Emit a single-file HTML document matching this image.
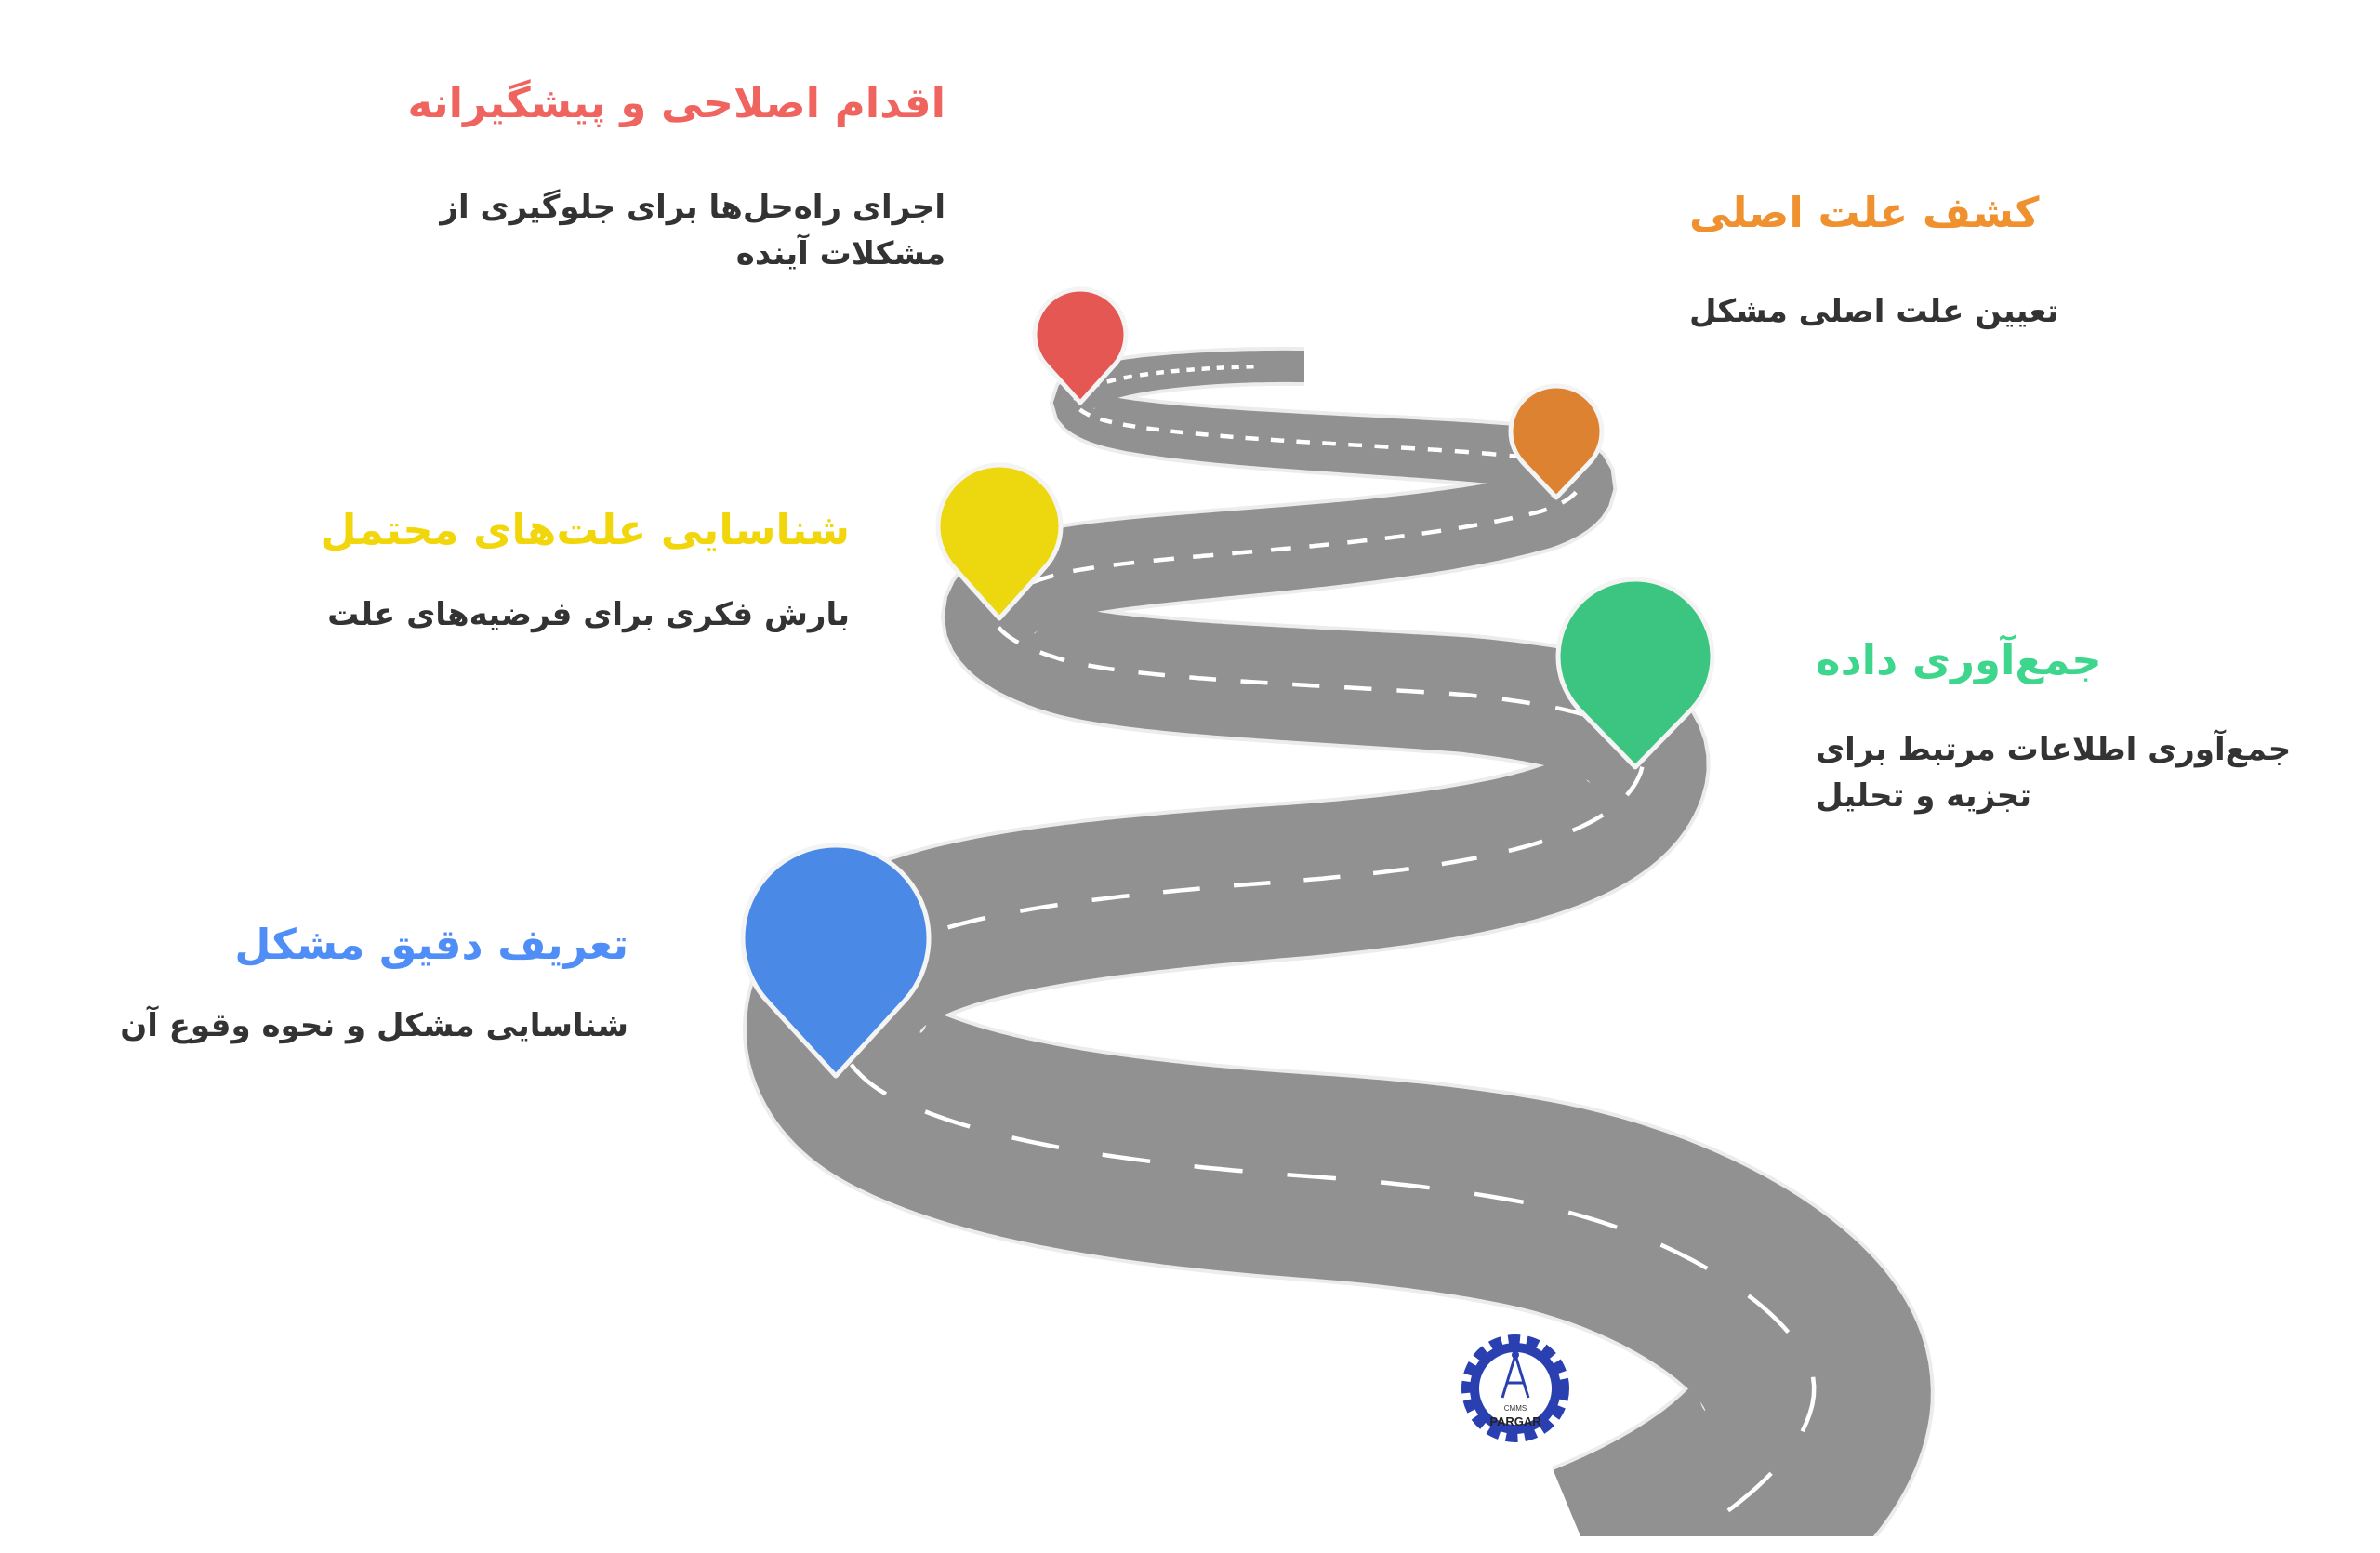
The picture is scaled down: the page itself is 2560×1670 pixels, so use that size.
<!DOCTYPE html>
<html><head><meta charset="utf-8"><style>
html,body{margin:0;padding:0;background:#fff;}
body{width:2560px;height:1670px;position:relative;overflow:hidden;font-family:"DejaVu Sans","Noto Sans CJK SC",sans-serif;}
.t{position:absolute;direction:rtl;font-weight:bold;white-space:nowrap;line-height:1;}
.h{font-size:45px;}
.d{font-size:34px;color:#333;line-height:50px;}
svg{position:absolute;left:0;top:0;overflow:hidden;}
</style></head><body>
<svg id="sv" width="2560" height="1670" viewBox="0 0 2560 1670">
<defs><clipPath id="cp"><rect x="0" y="0" width="2560" height="1652"/></clipPath></defs>
<path id="cl" fill="none" stroke="none" d="M1720,1700 C1890,1630 1962,1540 1950,1480 C1938,1420 1820,1330 1650,1295 C1550,1275 1450,1268 1395,1264 C1200,1250 1050,1225 960,1180 C880,1140 880,1060 960,1020 C1030,985 1150,965 1395,947 C1600,930 1740,900 1765,830 C1780,780 1700,760 1575,747 C1400,735 1200,730 1132,706 C1050,680 1040,640 1149,615 C1250,595 1500,590 1657,550 C1720,530 1710,500 1641,492 C1550,480 1300,475 1200,455 C1130,440 1140,410 1264,399 C1330,393 1380,394 1403,394"/>
<g clip-path="url(#cp)">
<path id="roadb" fill="#ececec" d=""/>
<path id="road" fill="#919191" d=""/>
<path id="dash" fill="none" stroke="#fff" stroke-width="4.5" d=""/>
</g>
<g id="pins" stroke="#f4f4f4" stroke-width="5" stroke-linejoin="round">
 <path fill="#4A89E6" d="M899,1157 L825.3,1076.6 A100,100 0 1 1 972.7,1076.6 Z"/>
 <path fill="#3CC581" d="M1759,825 L1697.8,762.1 A83,83 0 1 1 1820.2,762.1 Z"/>
 <path fill="#EDD70E" d="M1075,665 L1026.4,610.6 A66,66 0 1 1 1123.6,610.6 Z"/>
 <path fill="#DD8230" d="M1674,535 L1637.9,497.1 A49,49 0 1 1 1710.1,497.1 Z"/>
 <path fill="#E45753" d="M1162,433 L1125.9,393.1 A49,49 0 1 1 1198.1,393.1 Z"/>
</g>
<g transform="translate(1630,1493)">
 <circle r="50" fill="none" stroke="#2a3fb0" stroke-width="16" stroke-dasharray="12 7"/>
 <circle r="44" fill="none" stroke="#2a3fb0" stroke-width="10"/>
 <circle r="38" fill="#fff"/>
 <path d="M0,-36 L-14,10 M0,-36 L14,10 M-9,-6 L9,-6" stroke="#2a3fb0" stroke-width="3" fill="none"/>
 <circle cy="-36" r="4" fill="#2a3fb0"/>
 <text x="0" y="24" font-size="8" text-anchor="middle" fill="#333" font-family="Liberation Sans">CMMS</text>
 <text x="0" y="40" font-size="13" text-anchor="middle" fill="#222" font-family="Liberation Sans" font-weight="bold">PARGAR</text>
</g>
</svg>
<script>
(function(){
 var p=document.getElementById('cl'),L=p.getTotalLength();
 var tb=[[394,34],[433,48],[533,77],[665,107],[830,140],[1116,197],[1500,252],[1700,258]];
 function W(y){if(y<=tb[0][0])return tb[0][1];for(var i=1;i<tb.length;i++){if(y<=tb[i][0]){var a=tb[i-1],b=tb[i],f=(y-a[0])/(b[0]-a[0]);return a[1]+f*(b[1]-a[1]);}}return tb[tb.length-1][1];}
 function poly(extra){
  var N=900,Lp=[],Rp=[];
  for(var i=0;i<=N;i++){
   var s=L*i/N,a=p.getPointAtLength(Math.max(0,s-1)),b=p.getPointAtLength(Math.min(L,s+1)),c=p.getPointAtLength(s);
   var dx=b.x-a.x,dy=b.y-a.y,m=Math.hypot(dx,dy)||1,nx=-dy/m,ny=dx/m,w=W(c.y)/2+extra;
   Lp.push((c.x+nx*w).toFixed(1)+','+(c.y+ny*w).toFixed(1));
   Rp.unshift((c.x-nx*w).toFixed(1)+','+(c.y-ny*w).toFixed(1));
  }
  return 'M'+Lp.join(' L')+' L'+Rp.join(' L')+' Z';
 }
 document.getElementById('roadb').setAttribute('d',poly(4));
 document.getElementById('road').setAttribute('d',poly(0));
 var d='',s=40;
 while(s<L-60){
  var c=p.getPointAtLength(s),w=W(c.y),dl=w*0.24,gl=w*0.22;
  var e=Math.min(L,s+dl),seg='M';
  for(var k=0;k<=6;k++){var q=p.getPointAtLength(s+(e-s)*k/6);seg+=(k?' L':'')+q.x.toFixed(1)+','+q.y.toFixed(1);}
  d+=seg+' ';s=e+gl;
 }
 document.getElementById('dash').setAttribute('d',d);
})();
</script>

<div class="t h" style="right:1543px;top:88px;color:#F0645F;">اقدام اصلاحی و پیشگیرانه</div>
<div class="t d" style="right:1543px;top:198px;text-align:right;">اجرای راه‌حل‌ها برای جلوگیری از<br>مشکلات آینده</div>

<div class="t h" style="left:1817px;top:206px;color:#F0912F;">کشف علت اصلی</div>
<div class="t d" style="left:1817px;top:310px;">تعیین علت اصلی مشکل</div>

<div class="t h" style="right:1646px;top:547px;color:#F2D60C;">شناسایی علت‌های محتمل</div>
<div class="t d" style="right:1646px;top:636px;">بارش فکری برای فرضیه‌های علت</div>

<div class="t h" style="left:1953px;top:687px;color:#3DD68C;">جمع‌آوری داده</div>
<div class="t d" style="left:1953px;top:781px;text-align:left;">جمع‌آوری اطلاعات مرتبط برای<br>تجزیه و تحلیل</div>

<div class="t h" style="right:1884px;top:993px;color:#4F8EF7;">تعریف دقیق مشکل</div>
<div class="t d" style="right:1884px;top:1078px;">شناسایی مشکل و نحوه وقوع آن</div>
</body></html>
